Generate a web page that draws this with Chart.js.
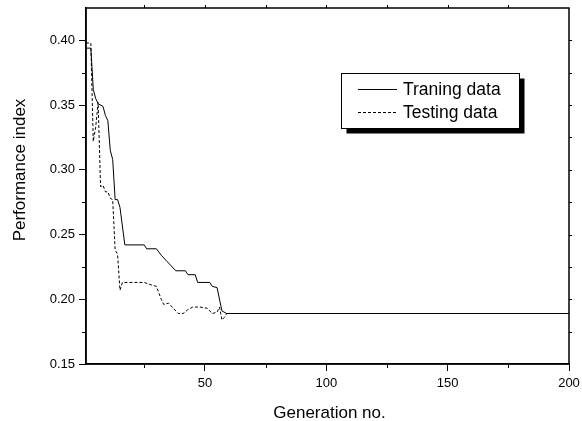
<!DOCTYPE html>
<html>
<head>
<meta charset="utf-8">
<script src="https://cdn.jsdelivr.net/npm/chart.js@4"></script>
<style>
  html, body { margin: 0; padding: 0; background: #fff; }
  #wrap { width: 582px; height: 421px; }
</style>
</head>
<body>
<div id="wrap"><canvas id="perfChart" width="582" height="421"></canvas></div>
<script>
// ==========================================
// DATOS
// ==========================================
const trainGen = [1, 3, 4, 5, 6, 8, 9, 10, 11, 12, 13, 14, 15, 17, 25, 26, 30, 32, 34, 36, 38, 42, 43, 46, 47, 52, 53, 55, 57, 59, 200];
const trainVal = [0.394, 0.394, 0.362, 0.355, 0.351, 0.349, 0.342, 0.338, 0.315, 0.308, 0.277, 0.277, 0.271, 0.242, 0.242, 0.239, 0.239, 0.234, 0.230, 0.226, 0.222, 0.222, 0.219, 0.219, 0.213, 0.213, 0.210, 0.209, 0.191, 0.189, 0.189];

const testGen = [1, 2, 3, 4, 5, 6, 7, 8, 9, 10, 11, 12, 13, 14, 15, 16, 25, 28, 30, 32, 33, 35, 37, 39, 41, 43, 45, 48, 51, 53, 55, 56, 57, 58, 59, 200];
const testVal = [0.398, 0.398, 0.398, 0.322, 0.333, 0.352, 0.287, 0.288, 0.283, 0.283, 0.278, 0.277, 0.238, 0.235, 0.207, 0.213, 0.213, 0.211, 0.210, 0.200, 0.196, 0.197, 0.193, 0.189, 0.189, 0.192, 0.194, 0.194, 0.193, 0.189, 0.190, 0.194, 0.184, 0.186, 0.189, 0.189];

const seriesNames = ['Traning data', 'Testing data'];

const xTicks = [50, 100, 150, 200];
const xMinor = [25, 75, 125, 175];
const yTicks = [0.15, 0.20, 0.25, 0.30, 0.35, 0.40];
const yMinor = [0.175, 0.225, 0.275, 0.325, 0.375];

const xTitle = 'Generation no.';
const yTitle = 'Performance index';

Chart.defaults.font.family = '"Liberation Sans", Arial, sans-serif';
Chart.defaults.color = '#000';

const toPoints = (xs, ys) => xs.map((g, i) => ({ x: g, y: ys[i] }));

// ==========================================
// MARCO, TICKS MENORES, TÍTULOS Y LEYENDA
// ==========================================
const framePlugin = {
    id: 'frame',
    afterDraw(chart) {
        const { ctx, chartArea: a, scales: { x, y } } = chart;
        ctx.save();
        ctx.strokeStyle = '#000';
        ctx.lineWidth = 1.5;
        ctx.strokeRect(a.left, a.top, a.right - a.left, a.bottom - a.top);

        ctx.lineWidth = 1;
        ctx.beginPath();
        yMinor.forEach(v => {
            const py = Math.round(y.getPixelForValue(v)) + 0.5;
            ctx.moveTo(a.left - 4, py); ctx.lineTo(a.left, py);
        });
        yMinor.concat(yTicks.slice(1)).forEach(v => {
            const py = Math.round(y.getPixelForValue(v)) + 0.5;
            ctx.moveTo(a.right, py); ctx.lineTo(a.right + 3, py);
        });
        xMinor.forEach(v => {
            const px = Math.round(x.getPixelForValue(v)) + 0.5;
            ctx.moveTo(px, a.bottom); ctx.lineTo(px, a.bottom + 4);
        });
        xMinor.concat(xTicks.slice(0, -1)).forEach(v => {
            const px = Math.round(x.getPixelForValue(v)) + 0.5;
            ctx.moveTo(px, a.top); ctx.lineTo(px, a.top - 3);
        });
        ctx.stroke();

        // títulos de ejes
        ctx.fillStyle = '#000';
        ctx.font = '17px "Liberation Sans", Arial, sans-serif';
        ctx.textAlign = 'center';
        ctx.textBaseline = 'alphabetic';
        ctx.fillText(xTitle, (a.left + a.right) / 2 + 2, 418);
        ctx.save();
        ctx.translate(25, 170);
        ctx.rotate(-Math.PI / 2);
        ctx.fillText(yTitle, 0, 0);
        ctx.restore();

        // leyenda con sombra
        const bx = 341.5, by = 73.5, bw = 178, bh = 55;
        ctx.fillStyle = '#000';
        ctx.fillRect(bx + 5, by + 5, bw, bh);
        ctx.fillStyle = '#fff';
        ctx.fillRect(bx, by, bw, bh);
        ctx.lineWidth = 1;
        ctx.strokeRect(bx, by, bw, bh);

        ctx.font = '17.5px "Liberation Sans", Arial, sans-serif';
        ctx.textAlign = 'left';
        ctx.textBaseline = 'middle';
        chart.data.datasets.forEach((ds, i) => {
            const ly = 89.5 + i * 23;
            ctx.setLineDash(ds.borderDash || []);
            ctx.beginPath();
            ctx.moveTo(358, ly); ctx.lineTo(397, ly);
            ctx.stroke();
            ctx.setLineDash([]);
            ctx.fillStyle = '#000';
            ctx.fillText(ds.label, 403, ly + 1);
        });
        ctx.restore();
    }
};

// ==========================================
// GRÁFICA
// ==========================================
const ctxPerf = document.getElementById('perfChart').getContext('2d');
const perfChart = new Chart(ctxPerf, {
    type: 'line',
    data: {
        datasets: [{
            label: seriesNames[0],
            data: toPoints(trainGen, trainVal),
            borderColor: '#000',
            borderWidth: 1,
            pointRadius: 0,
            tension: 0,
            fill: false
        }, {
            label: seriesNames[1],
            data: toPoints(testGen, testVal),
            borderColor: '#000',
            borderWidth: 1,
            borderDash: [3, 2],
            pointRadius: 0,
            tension: 0,
            fill: false
        }]
    },
    options: {
        responsive: false,
        animation: false,
        layout: { padding: { left: 0, top: 8, right: 13, bottom: 0 } },
        plugins: {
            legend: { display: false },
            tooltip: { enabled: false }
        },
        scales: {
            x: {
                type: 'linear',
                min: 1,
                max: 200,
                afterBuildTicks: s => { s.ticks = xTicks.map(v => ({ value: v })); },
                afterFit: s => { s.height = 57; s.paddingLeft = 0; s.paddingRight = 0; },
                grid: { drawOnChartArea: false, tickLength: 7, tickColor: '#000', tickWidth: 1 },
                border: { color: '#000', width: 1.5 },
                ticks: { color: '#000', font: { size: 13 }, padding: 5, maxRotation: 0 }
            },
            y: {
                min: 0.15,
                max: 0.425,
                afterBuildTicks: s => { s.ticks = yTicks.map(v => ({ value: v })); },
                afterFit: s => { s.width = 86; s.paddingTop = 0; s.paddingBottom = 0; },
                grid: { drawOnChartArea: false, tickLength: 7, tickColor: '#000', tickWidth: 1 },
                border: { color: '#000', width: 1.5 },
                ticks: { color: '#000', font: { size: 13 }, padding: 4, callback: v => Number(v).toFixed(2) }
            }
        }
    },
    plugins: [framePlugin]
});
</script>
</body>
</html>
